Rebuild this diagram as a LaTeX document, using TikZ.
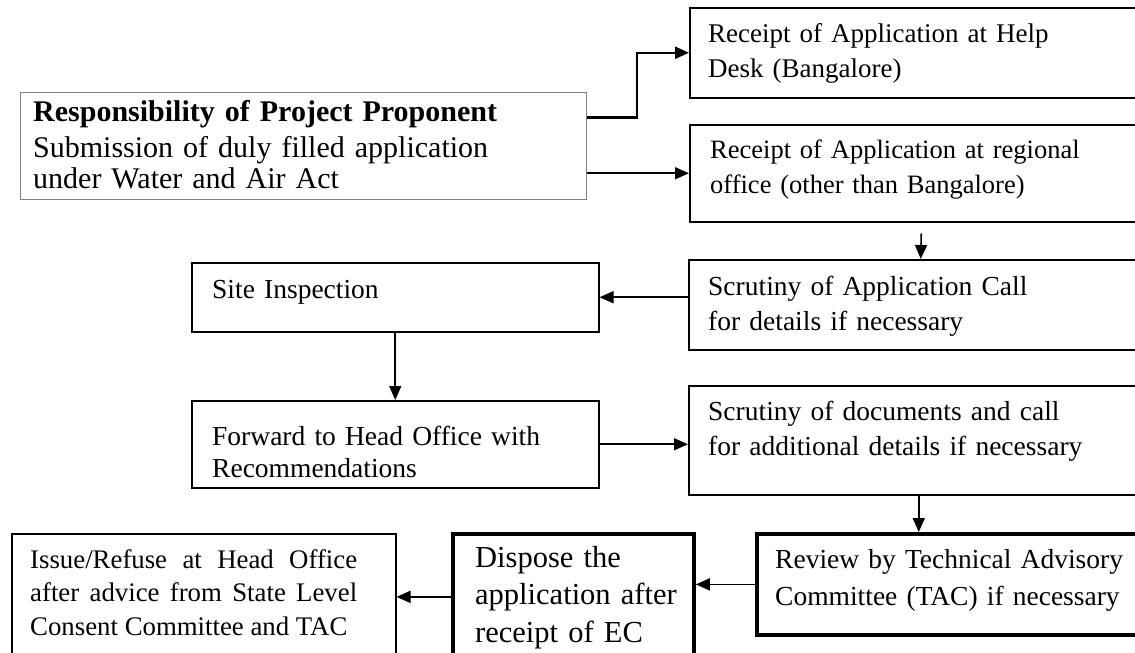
\documentclass[tikz,border=0pt]{standalone}
\usepackage{xcolor}
\usepackage{tikz}
\usepackage{fontspec}
\setmainfont{Liberation Serif}
\usetikzlibrary{arrows.meta,positioning,calc}
\tikzset{
  box/.style={draw, line width=1.5pt, anchor=north west, inner sep=0pt},
  heavybox/.style={box, line width=3.8pt},
  txt/.style={anchor=base west, inner sep=0pt, align=left, text width=#1, font=\fontsize{27.5}{35}\selectfont},
  txt/.default=420pt,
  link/.style={-{Triangle[length=14pt,width=12pt]}, line width=1.6pt},
}

\begin{document}
\begin{tikzpicture}[x=1pt,y=-1pt]
            \useasboundingbox (0,0) rectangle (1135,653);
            \clip (0,0) rectangle (1135,653);
            \node[box, draw=gray, line width=1pt, minimum width=566pt, minimum height=107pt] (pp) at (20,92) {};
            \node[txt=560pt, font=\fontsize{30}{31}\selectfont] (pptext) at (33,121) {\textbf{Responsibility of Project Proponent}\\[5pt]Submission of duly filled application\\under Water and Air Act};
            \node[box, minimum width=461pt, minimum height=90pt] (help) at (689,7) {};
            \node[txt, font=\fontsize{27}{35}\selectfont] (helptext) at (708,42) {Receipt of Application at Help\\Desk (Bangalore)};
            \node[box, minimum width=463pt, minimum height=97pt] (regional) at (689,124) {};
            \node[txt, font=\fontsize{26.5}{35}\selectfont] (regionaltext) at (710,158) {Receipt of Application at regional\\office (other than Bangalore)};
            \node[box, minimum width=464pt, minimum height=90pt] (scrut) at (688,259) {};
            \node[txt] (scruttext) at (708,295) {Scrutiny of Application Call\\for details if necessary};
            \node[box, minimum width=407pt, minimum height=69pt] (site) at (191,262) {};
            \node[txt] (sitetext) at (212,298) {Site Inspection};
            \node[box, minimum width=407pt, minimum height=87pt] (fwd) at (191,400) {};
            \node[txt, font=\fontsize{27.5}{32}\selectfont] (fwdtext) at (212,445) {Forward to Head Office with\\Recommendations};
            \node[box, minimum width=460pt, minimum height=109pt] (scrut2) at (688,385) {};
            \node[txt] (scrut2text) at (708,420) {Scrutiny of documents and call\\for additional details if necessary};
            \node[heavybox, minimum width=395pt, minimum height=101pt] (tac) at (755,532) {};
            \node[txt, font=\fontsize{27.5}{37}\selectfont] (tactext) at (775,568) {Review by Technical Advisory\\Committee (TAC) if necessary};
            \node[heavybox, minimum width=241pt, minimum height=126pt] (dispose) at (451,532) {};
            \node[txt=210pt, font=\fontsize{30.5}{37.5}\selectfont] (disposetext) at (475,567) {Dispose the\\application after\\receipt of EC};
            \node[box, minimum width=384pt, minimum height=125pt] (issue) at (11,533) {};
            \node[txt=327pt, align=justify, font=\fontsize{26.8}{33.5}\selectfont] (issuetext) at (30,568) {Issue/Refuse at Head Office\linebreak after advice from State Level\linebreak Consent Committee and TAC};
            \draw[link, line width=2.4pt] ([yshift=28.5pt]pp.east) -- ++(50,0) |- (help.west);
            \draw[link] (pp.east |- regional.west) -- (regional.west);
            \draw[link] ([yshift=-11pt]regional.south) -- (scrut.north);
            \draw[link] (scrut.west |- site.east) -- (site.east);
            \draw[link] (site.south) -- (fwd.north);
            \draw[link] (fwd.east) -- (fwd.east -| scrut2.west);
            \draw[link] (scrut2.south) -- (scrut2.south |- tac.north);
            \draw[link] (tac.west) -- (tac.west -| dispose.east);
            \draw[link] (dispose.west) -- (dispose.west -| issue.east);
        \end{tikzpicture}
\end{document}
